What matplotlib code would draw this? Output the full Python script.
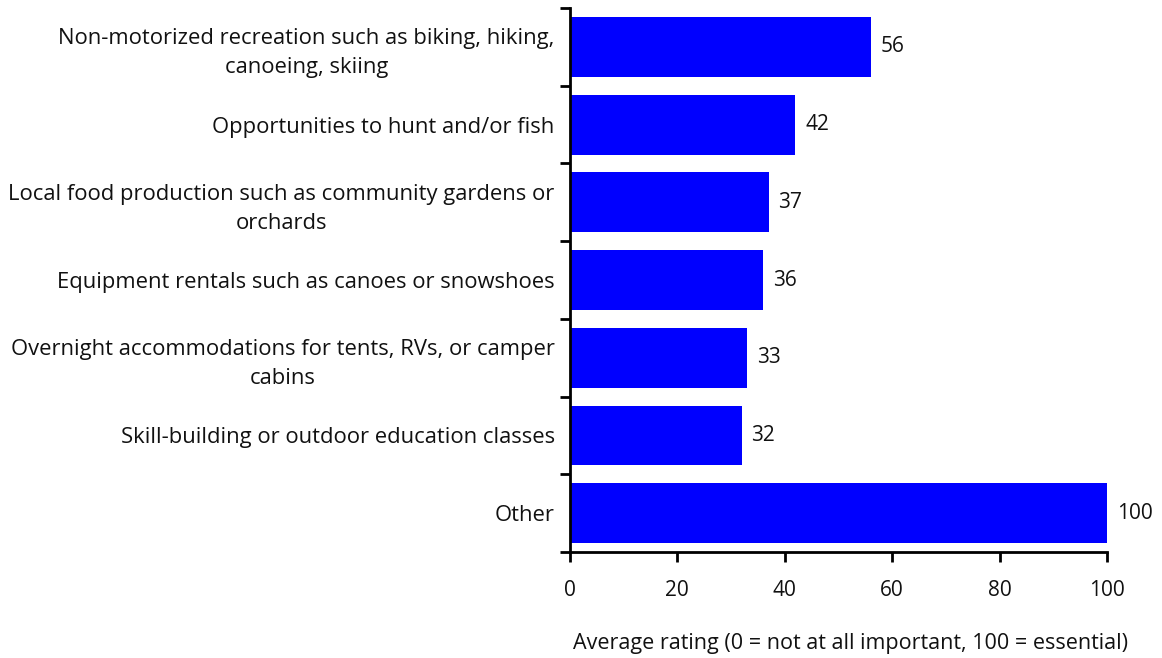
import matplotlib.pyplot as plt
import numpy as np

plt.rcParams['font.family'] = ['Open Sans', 'DejaVu Sans']

categories = [
    'Non-motorized recreation such as biking, hiking,\ncanoeing, skiing',
    'Opportunities to hunt and/or fish',
    'Local food production such as community gardens or\norchards',
    'Equipment rentals such as canoes or snowshoes',
    'Overnight accommodations for tents, RVs, or camper\ncabins',
    'Skill-building or outdoor education classes',
    'Other',
]
values = [56, 42, 37, 36, 33, 32, 100]
xticks = [0, 20, 40, 60, 80, 100]

fig = plt.figure(figsize=(11.62, 6.58), dpi=100)
ax = fig.add_axes([0.4905, 0.1611, 0.4621, 0.8267])

y = np.arange(len(categories))
ax.barh(y, values, height=0.77, color='#0000FF')
for yi, v in zip(y, values):
    ax.text(v + 1.8, yi, str(v), va='center', ha='left', fontsize=15, color='#111111')

ax.set_ylim(len(categories) - 0.5, -0.5)
ax.set_xlim(0, 100)
ax.set_yticks(y)
ax.set_yticklabels(categories, fontsize=15.8, ha='right', multialignment='center',
                   linespacing=1.5, color='#111111')
ax.tick_params(axis='y', which='major', length=0, pad=11)
ax.set_yticks(np.arange(len(categories) + 1) - 0.5, minor=True)
ax.tick_params(axis='y', which='minor', length=7, width=2, direction='out')

ax.set_xticks(xticks)
ax.set_xticklabels([str(t) for t in xticks], fontsize=15, color='#111111')
ax.tick_params(axis='x', length=7, width=2, direction='out', pad=13)
ax.set_xlabel('Average rating (0 = not at all important, 100 = essential)', fontsize=15.5,
              color='#111111')
ax.xaxis.set_label_coords(0.522, -0.148)

for s in ['top', 'right']:
    ax.spines[s].set_visible(False)
ax.spines['left'].set_linewidth(2)
ax.spines['bottom'].set_linewidth(2)

fig.savefig('out.png', dpi=100)
